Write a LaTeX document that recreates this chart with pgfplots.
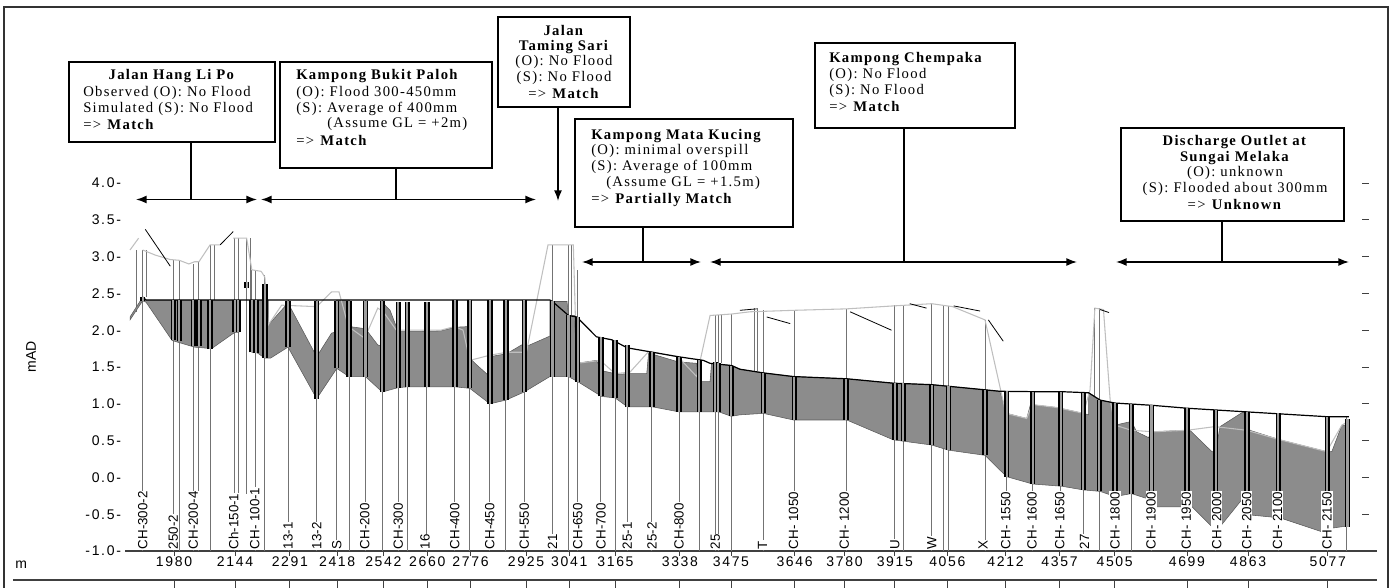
\documentclass[border=0pt]{standalone}
\usepackage{fontspec}
\setmainfont{Liberation Serif}
\newfontfamily\annfont{Liberation Serif}[LetterSpace=9]
\newfontfamily\tickfont{Liberation Sans}[LetterSpace=12]
\newfontfamily\labfont{Liberation Sans}
\usepackage{pgfplots}
\pgfplotsset{compat=1.18}
\usepackage{pgfplotstable}
\usetikzlibrary{arrows.meta}

\pgfplotstableread{
x y
1880 2.25
1880 3.09
1880 nan
1896 -1
1896 3.09
1896 nan
1907 2.45
1907 3.09
1907 nan
1978 -1
1978 2.95
1978 nan
1994 -1
1994 2.95
1994 nan
2032 -1
2032 2.90
2032 nan
2047 -1
2047 2.93
2047 nan
2077 -1
2077 3.16
2077 nan
2089 2.41
2089 3.16
2089 nan
2143 -1
2143 3.25
2143 nan
2152 -1
2152 3.25
2152 nan
2175 -0.22
2175 3.25
2175 nan
2185 2.41
2185 3.25
2185 nan
2189 1.70
2189 2.82
2189 nan
2200 -1
2200 2.80
2200 nan
2224 -1
2224 2.75
2224 nan
2286 -1
2286 2.41
2286 nan
2363 -1
2363 2.41
2363 nan
2417 -1
2417 2.41
2417 nan
2450 -1
2450 2.41
2450 nan
2494 -1
2494 2.41
2494 nan
2539 -1
2539 2.41
2539 nan
2582 -1
2582 2.38
2582 nan
2606 -1
2606 2.38
2606 nan
2659 -1
2659 2.38
2659 nan
2734 -1
2734 2.41
2734 nan
2774 -1
2774 2.41
2774 nan
2828 -1
2828 2.41
2828 nan
2871 -1
2871 2.41
2871 nan
2920 -1
2920 2.41
2920 nan
2996 -1
2996 3.16
2996 nan
3039 -1
3039 3.16
3039 nan
3048 2.20
3048 3.16
3048 nan
3064 -1
3064 2.82
3064 nan
3126 -1
3126 1.91
3126 nan
3164 -1
3164 1.87
3164 nan
3197 -1
3197 1.80
3197 nan
3263 -1
3263 1.71
3263 nan
3336 -1
3336 1.64
3336 nan
3390 -1
3390 1.60
3390 nan
3433 -1
3433 2.20
3433 nan
3441 -1
3441 2.20
3441 nan
3450 1.56
3450 2.21
3450 nan
3476 -1
3476 2.22
3476 nan
3537 1.45
3537 2.30
3537 nan
3545 1.45
3545 2.30
3545 nan
3562 -1
3562 2.28
3562 nan
3645 -1
3645 2.27
3645 nan
3784 -1
3784 2.29
3784 nan
3915 -1
3915 2.34
3915 nan
3938 -1
3938 2.34
3938 nan
4014 -1
4014 2.36
4014 nan
4045 -1
4045 2.33
4045 nan
4059 -1
4059 2.33
4059 nan
4157 -1
4157 2.14
4157 nan
4215 -1
4215 1.17
4215 nan
4285 -1
4285 1.165
4285 nan
4360 -1
4360 1.165
4360 nan
4421 -1
4421 1.15
4421 nan
4450 1.10
4450 2.30
4450 nan
4464 -1
4464 2.30
4464 nan
4506 -1
4506 1.01
4506 nan
4550 -1
4550 1.00
4550 nan
4604 -1
4604 0.98
4604 nan
4699 -1
4699 0.94
4699 nan
4776 -1
4776 0.92
4776 nan
4860 -1
4860 0.89
4860 nan
4944 -1
4944 0.87
4944 nan
5076 -1
5076 0.825
5076 nan
5128 -1
5128 0.825
}\nodelines

\pgfplotstableread{
x y
1896 2.40
1896 2.45
1896 nan
1978 1.87
1978 2.41
1978 nan
1994 1.85
1994 2.41
1994 nan
2032 1.78
2032 2.41
2032 nan
2047 1.78
2047 2.41
2047 nan
2077 1.75
2077 2.41
2077 nan
2143 1.97
2143 2.41
2143 nan
2152 1.97
2152 2.41
2152 nan
2175 2.57
2175 2.66
2175 nan
2189 1.70
2189 2.41
2189 nan
2200 1.69
2200 2.41
2200 nan
2224 1.62
2224 2.63
2224 nan
2286 1.77
2286 2.40
2286 nan
2363 1.07
2363 2.40
2363 nan
2417 1.48
2417 2.40
2417 nan
2450 1.37
2450 2.40
2450 nan
2494 1.37
2494 2.40
2494 nan
2539 1.16
2539 2.40
2539 nan
2582 1.22
2582 2.38
2582 nan
2606 1.23
2606 2.38
2606 nan
2659 1.23
2659 2.38
2659 nan
2734 1.23
2734 2.41
2734 nan
2774 1.21
2774 2.41
2774 nan
2828 1.00
2828 2.41
2828 nan
2871 1.05
2871 2.41
2871 nan
2920 1.16
2920 2.41
2920 nan
2996 1.37
2996 2.39
2996 nan
3039 1.37
3039 2.20
3039 nan
3064 1.30
3064 2.18
3064 nan
3126 1.10
3126 1.91
3126 nan
3164 1.08
3164 1.87
3164 nan
3197 0.96
3197 1.80
3197 nan
3263 0.96
3263 1.71
3263 nan
3336 0.89
3336 1.64
3336 nan
3390 0.89
3390 1.60
3390 nan
3433 0.89
3433 1.57
3433 nan
3441 0.89
3441 1.56
3441 nan
3476 0.83
3476 1.52
3476 nan
3562 0.87
3562 1.42
3562 nan
3645 0.78
3645 1.37
3645 nan
3784 0.78
3784 1.34
3784 nan
3915 0.51
3915 1.28
3915 nan
3938 0.50
3938 1.28
3938 nan
4014 0.44
4014 1.26
4014 nan
4059 0.37
4059 1.24
4059 nan
4157 0.30
4157 1.19
4157 nan
4215 0.01
4215 1.17
4215 nan
4285 -0.09
4285 1.165
4285 nan
4360 -0.12
4360 1.165
4360 nan
4421 -0.17
4421 1.15
4421 nan
4464 -0.19
4464 1.05
4464 nan
4506 -0.26
4506 1.01
4506 nan
4550 -0.22
4550 1.00
4550 nan
4604 -0.40
4604 0.98
4604 nan
4699 -0.40
4699 0.94
4699 nan
4776 -0.69
4776 0.92
4776 nan
4860 -0.51
4860 0.89
4860 nan
4944 -0.55
4944 0.87
4944 nan
5076 -0.76
5076 0.825
5076 nan
5130 -0.67
5130 0.80
}\bars

\tikzset{
  lab/.style={rotate=90, anchor=west, fill=white, inner sep=0.6pt, font=\labfont\fontsize{10}{10}\selectfont},
  ann/.style={font=\annfont\fontsize{11}{12}\selectfont, inner sep=0pt},
  arr/.style={{Latex[length=8pt,width=6pt]}-{Latex[length=8pt,width=6pt]}, line width=1.1pt},
}

\begin{document}
\begin{tikzpicture}
\begin{axis}[
  scale only axis, width=939pt, height=276pt,
  at={(0pt,0pt)}, anchor=south west,
  xmin=1848.5, xmax=5209.3, ymin=-1, ymax=4,
  enlargelimits=false, clip=false,
  axis x line*=bottom, axis y line*=left,
  x axis line style={-, black!75, line width=0.8pt},
  y axis line style={draw=none},
  xtick={1980,2144,2291,2418,2542,2660,2776,2925,3041,3165,3338,3475,3646,3780,3915,4056,4212,4357,4505,4699,4863,5077},
  xticklabels={1980,2144,2291,2418,2542,2660,2776,2925,3041,3165,3338,3475,3646,3780,3915,4056,4212,4357,4505,4699,4863,5077},
  ytick={-1,-0.5,0,0.5,1,1.5,2,2.5,3,3.5,4},
  yticklabels={-1.0-,-0.5-,0.0-,0.5-,1.0-,1.5-,2.0-,2.5-,3.0-,3.5-,4.0-},
  ytick style={draw=none},
  xtick style={black!75, line width=0.6pt},
  tick align=outside, major tick length=3.5pt,
  ticklabel style={font=\tickfont\fontsize{10.5}{12}\selectfont},
  xticklabel style={yshift=3pt},
  yticklabel style={xshift=4pt},
  unbounded coords=jump,
]
% node lines
\addplot[black!55, line width=0.7pt] table {\nodelines};
% water / section fill
\addplot[fill=black!45, draw=black!65, line width=0.4pt] coordinates {
(1862,2.18) (1896,2.45) (1905,2.41) (2154,2.41) (2154,1.97) (2143,1.97) (2081,1.75) (2035,1.77) (1975,1.86) (1905,2.38) (1896,2.40) (1862,2.14)} -- cycle;
\addplot[fill=black!45, draw=black!65, line width=0.4pt] coordinates {
(2189,2.41) (2233,2.41) (2233,2.07) (2286,2.37) (2363,1.64) (2403,1.96) (2417,1.98) (2417,2.41) (2450,2.41) (2450,2.05) (2494,2.02) (2527,1.80) (2539,1.78) (2539,2.38) (2560,2.27) (2582,1.98) (2696,1.99) (2734,2.04) (2774,2.05) (2774,1.62) (2788,1.55) (2821,1.40) (2828,1.64) (2873,1.68) (2913,1.80) (2926,1.78) (2989,1.92) (2989,2.39) (3035,2.39) (3039,2.20) (3055,2.20) (3061,1.55) (3114,1.59) (3128,1.45) (3155,1.42) (3168,1.40) (3204,1.41) (3249,1.41) (3254,1.69) (3333,1.57) (3383,1.55) (3388,1.30) (3419,1.30) (3423,1.55) (3477,1.52) (3499,1.47) (3562,1.42) (3643,1.37) (3786,1.34) (3911,1.28) (4014,1.26) (4157,1.19) (4197,1.17) (4215,0.87) (4269,0.80) (4279,0.99) (4349,0.95) (4421,0.87) (4435,0.85) (4435,1.15) (4466,1.05) (4506,1.01) (4506,0.71) (4550,0.76) (4564,0.62) (4596,0.54) (4604,0.62) (4698,0.64) (4707,0.64) (4766,0.35) (4776,0.35) (4788,0.69) (4850,0.89) (4860,0.89) (4868,0.64) (4949,0.51) (5074,0.35) (5088,0.35) (5115,0.71) (5132,0.71)
(5132,-0.67) (5115,-0.67) (5088,-0.69) (5074,-0.76) (4949,-0.55) (4868,-0.51) (4860,-0.28) (4850,-0.28) (4788,-0.67) (4776,-0.69) (4766,-0.67) (4707,-0.37) (4698,-0.40) (4604,-0.40) (4600,-0.30) (4550,-0.22) (4506,-0.26) (4466,-0.19) (4421,-0.17) (4363,-0.12) (4285,-0.09) (4215,0.01) (4157,0.30) (4059,0.37) (4014,0.44) (3911,0.51) (3786,0.78) (3643,0.78) (3562,0.87) (3499,0.85) (3476,0.83) (3443,0.89) (3390,0.89) (3336,0.89) (3263,0.96) (3197,0.96) (3164,1.08) (3128,1.10) (3064,1.30) (3039,1.37) (2989,1.37) (2920,1.16) (2871,1.05) (2828,1.00) (2774,1.21) (2736,1.23) (2606,1.23) (2582,1.22) (2539,1.16) (2494,1.37) (2450,1.37) (2417,1.48) (2363,1.07) (2286,1.77) (2239,1.62) (2224,1.62) (2204,1.69) (2189,1.70)} -- cycle;
% bank (ground) line
\addplot[black!25, line width=0.8pt] coordinates {
(1862,3.09) (1885,3.25) (1885,nan)
(1896,3.09) (1930,3.02) (1970,2.96) (1994,2.95) (2020,2.90) (2035,2.93) (2047,2.93) (2077,3.16) (2104,3.16) (2104,nan)
(2139,3.25) (2175,3.25) (2189,2.82) (2214,2.80) (2224,2.72) (2233,2.07) (2269,2.34) (2363,2.32) (2403,2.52) (2423,2.52) (2448,2.05) (2492,1.89) (2527,2.30) (2542,2.25) (2577,2.0) (2696,2.0) (2734,2.05) (2756,2.0) (2774,1.59) (2828,1.66) (2873,1.70) (2926,1.70) (2984,3.16) (3052,3.16) (3061,1.55) (3124,1.59) (3164,1.41) (3204,1.43) (3254,1.71) (3333,1.64) (3383,1.37) (3419,2.20) (3477,2.22) (3526,2.25) (3643,2.27) (3786,2.29) (3911,2.33) (4014,2.36) (4070,2.32) (4157,2.14) (4213,0.87) (4269,0.80) (4283,0.99) (4349,0.95) (4421,0.87) (4439,1.19) (4452,2.30) (4475,2.28) (4493,1.05) (4506,0.71) (4550,0.64) (4609,0.62) (4699,0.64) (4774,0.69) (4860,0.64) (4949,0.51) (5074,0.35) (5115,0.71) (5125,0.74)};
% dark bank segments
\addplot[black, line width=0.6pt] coordinates {
(1903,3.37) (1970,2.87) (1970,nan)
(2104,3.16) (2139,3.34) (2139,nan)
(3499,2.27) (3544,2.29) (3544,nan)
(3571,2.18) (3634,2.09) (3634,nan)
(3795,2.25) (3906,2.00) (3906,nan)
(3955,2.36) (4000,2.30) (4000,nan)
(4073,2.33) (4144,2.26) (4144,nan)
(4166,2.14) (4206,1.85) (4206,nan)
(4466,2.28) (4490,2.24)};
% soffit / water level line
\addplot[black, line width=0.9pt] coordinates {
(1896,2.45) (1905,2.41) (2989,2.41) (2996,2.39) (3039,2.20) (3061,2.18) (3114,1.91) (3155,1.87) (3197,1.76) (3254,1.71) (3333,1.64) (3401,1.59) (3419,1.55) (3477,1.52) (3499,1.47) (3562,1.42) (3643,1.37) (3786,1.34) (3911,1.28) (4014,1.26) (4157,1.19) (4197,1.17) (4285,1.165) (4360,1.165) (4435,1.15) (4466,1.05) (4506,1.01) (4604,0.98) (4699,0.94) (4860,0.89) (5074,0.825) (5134,0.825)};
% section bars
\addplot[black, line width=4pt] table {\bars};
\addplot[black!38, line width=1.6pt] table {\bars};
% node labels
\node[lab] at (axis cs:1896,-0.99) {CH-300-2};
\node[lab] at (axis cs:1978,-0.99) {250-2};
\node[lab] at (axis cs:2032,-0.99) {CH-200-4};
\node[lab] at (axis cs:2140,-0.99) {Ch-150-1};
\node[lab] at (axis cs:2197,-0.99) {CH- 100-1};
\node[lab] at (axis cs:2286,-0.99) {13-1};
\node[lab] at (axis cs:2363,-0.99) {13-2};
\node[lab] at (axis cs:2417,-0.99) {S};
\node[lab] at (axis cs:2492,-0.99) {CH-200};
\node[lab] at (axis cs:2582,-0.99) {CH-300};
\node[lab] at (axis cs:2654,-0.99) {16};
\node[lab] at (axis cs:2734,-0.99) {CH-400};
\node[lab] at (axis cs:2828,-0.99) {CH-450};
\node[lab] at (axis cs:2920,-0.99) {CH-550};
\node[lab] at (axis cs:2996,-0.99) {21};
\node[lab] at (axis cs:3064,-0.99) {CH-650};
\node[lab] at (axis cs:3126,-0.99) {CH-700};
\node[lab] at (axis cs:3197,-0.99) {25-1};
\node[lab] at (axis cs:3263,-0.99) {25-2};
\node[lab] at (axis cs:3336,-0.99) {CH-800};
\node[lab] at (axis cs:3433,-0.99) {25};
\node[lab] at (axis cs:3560,-0.99) {T};
\node[lab] at (axis cs:3643,-0.99) {CH- 1050};
\node[lab] at (axis cs:3779,-0.99) {CH- 1200};
\node[lab] at (axis cs:3915,-0.99) {U};
\node[lab] at (axis cs:4014,-0.99) {W};
\node[lab] at (axis cs:4152,-0.99) {X};
\node[lab] at (axis cs:4213,-0.99) {CH- 1550};
\node[lab] at (axis cs:4283,-0.99) {CH- 1600};
\node[lab] at (axis cs:4358,-0.99) {CH- 1650};
\node[lab] at (axis cs:4424,-0.99) {27};
\node[lab] at (axis cs:4506,-0.99) {CH- 1800};
\node[lab] at (axis cs:4603,-0.99) {CH- 1900};
\node[lab] at (axis cs:4697,-0.99) {CH- 1950};
\node[lab] at (axis cs:4779,-0.99) {CH- 2000};
\node[lab] at (axis cs:4860,-0.99) {CH- 2050};
\node[lab] at (axis cs:4942,-0.99) {CH- 2100};
\node[lab] at (axis cs:5075,-0.99) {CH- 2150};
\end{axis}

\begin{scope}[x=0.75pt,y=-0.75pt,shift={(-93.75pt,413.25pt)}]
% frame
\draw[black!80, line width=1.1pt] (4,592) -- (4,7) -- (1388,7) -- (1388,592);
% lower ruler
\draw[black!75, line width=0.8pt] (13,580) -- (1377,580);
\foreach \t in {1980,2144,2291,2418,2542,2660,2776,2925,3041,3165,3338,3475,3646,3780,3915,4056,4212,4357,4505,4699,4863,5077}
  \draw[black!75, line width=0.6pt] ({174+(\t-1980)/2.6844},580) -- ++(0,8);
% right-hand ticks
\foreach \k in {0,...,9}
  \draw[black!75, line width=0.6pt] (1362,{551-(\k+1)*36.8}) -- (1369,{551-(\k+1)*36.8});
% axis labels
\node[anchor=base west, inner sep=0pt, font=\tickfont\fontsize{10.5}{12}\selectfont] at (15,568) {m};
\node[rotate=90, inner sep=0pt, font=\labfont\fontsize{10.5}{12}\selectfont] at (31,357) {mAD};

% Box 1
\draw[line width=1.1pt, fill=white] (69,62) rectangle (275,142);
\draw[line width=1.1pt] (191,142) -- (191,199.5);
\draw[arr] (136,199.5) -- (257,199.5);
\node[ann, anchor=base] at (172,80) {\textbf{Jalan Hang Li Po}};
\node[ann, anchor=base west] at (83,96.5) {Observed (O): No Flood};
\node[ann, anchor=base west] at (83,112.5) {Simulated (S): No Flood};
\node[ann, anchor=base west] at (83,130) {=> \textbf{Match}};

% Box 2
\draw[line width=1.1pt, fill=white] (280,62) rectangle (492,168);
\draw[line width=1.1pt] (396,168) -- (396,199.5);
\draw[arr] (261,199.5) -- (536,199.5);
\node[ann, anchor=base west] at (296,80) {\textbf{Kampong Bukit Paloh}};
\node[ann, anchor=base west] at (296,96.5) {(O): Flood 300-450mm};
\node[ann, anchor=base west] at (296,112.5) {(S): Average of 400mm};
\node[ann, anchor=base west] at (327,128) {(Assume GL = +2m)};
\node[ann, anchor=base west] at (296,146) {=> \textbf{Match}};

% Box 3
\draw[line width=1.1pt, fill=white] (498,17) rectangle (630,107);
\draw[line width=1.1pt, -{Latex[length=8pt,width=6pt]}] (558,107) -- (558,201);
\node[ann, anchor=base] at (564,36) {\textbf{Jalan}};
\node[ann, anchor=base] at (564,51) {\textbf{Taming Sari}};
\node[ann, anchor=base] at (564,66) {(O): No Flood};
\node[ann, anchor=base] at (564,82) {(S): No Flood};
\node[ann, anchor=base] at (564,99) {=> \textbf{Match}};

% Box 4
\draw[line width=1.1pt, fill=white] (575,119) rectangle (793,227);
\draw[line width=1.1pt] (643,227) -- (643,262);
\draw[arr] (582,262) -- (701,262);
\node[ann, anchor=base west] at (591,140) {\textbf{Kampong Mata Kucing}};
\node[ann, anchor=base west] at (591,155) {(O): minimal overspill};
\node[ann, anchor=base west] at (591,171) {(S): Average of 100mm};
\node[ann, anchor=base west] at (606,187) {(Assume GL = +1.5m)};
\node[ann, anchor=base west] at (591,204) {=> \textbf{Partially Match}};

% Box 5
\draw[line width=1.1pt, fill=white] (815,43) rectangle (1015,128);
\draw[line width=1.1pt] (904,128) -- (904,262);
\draw[arr] (710,262) -- (1077,262);
\node[ann, anchor=base west] at (829,63) {\textbf{Kampong Chempaka}};
\node[ann, anchor=base west] at (829,78.5) {(O): No Flood};
\node[ann, anchor=base west] at (829,94.5) {(S): No Flood};
\node[ann, anchor=base west] at (829,112) {=> \textbf{Match}};

% Box 6
\draw[line width=1.1pt, fill=white] (1121,128) rectangle (1344,221);
\draw[line width=1.1pt] (1222,221) -- (1222,262);
\draw[arr] (1116,262) -- (1349,262);
\node[ann, anchor=base] at (1235,146) {\textbf{Discharge Outlet at}};
\node[ann, anchor=base] at (1235,162) {\textbf{Sungai Melaka}};
\node[ann, anchor=base] at (1235,177) {(O): unknown};
\node[ann, anchor=base] at (1235,193) {(S): Flooded about 300mm};
\node[ann, anchor=base] at (1235,210) {=> \textbf{Unknown}};
\end{scope}

\pgfresetboundingbox
\begin{scope}[x=0.75pt,y=-0.75pt,shift={(-93.75pt,413.25pt)}]
\path (0,0) rectangle (1394,588);
\end{scope}
\end{tikzpicture}
\end{document}
